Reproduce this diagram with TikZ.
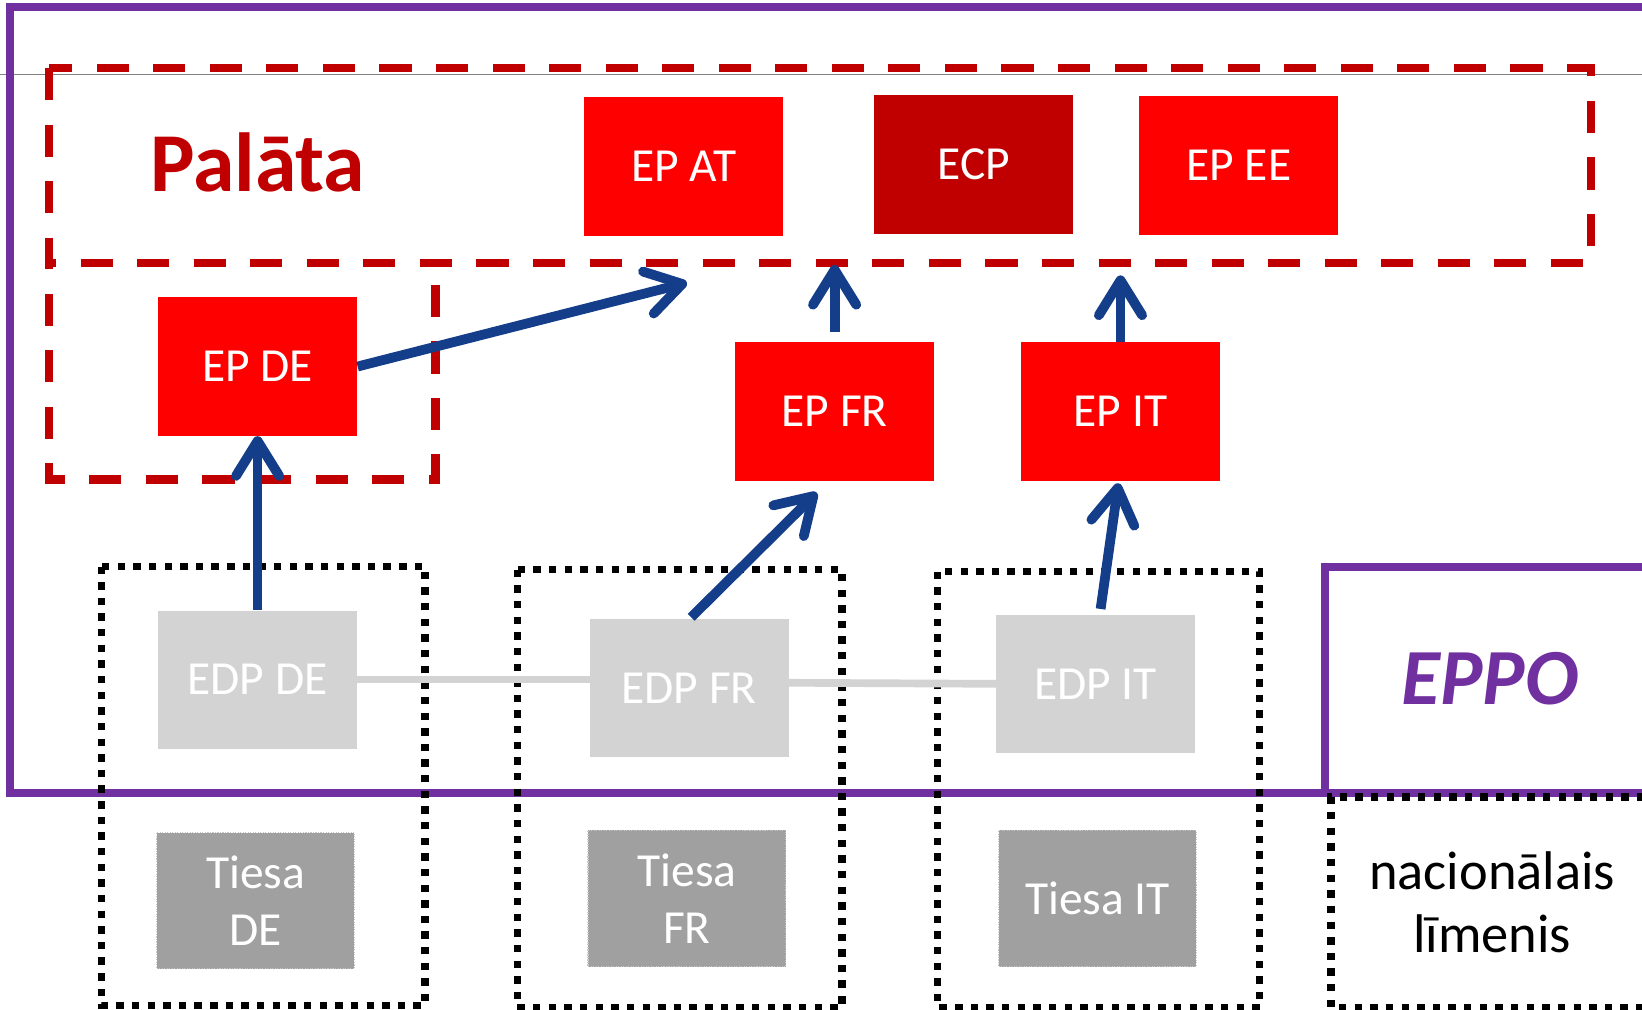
\documentclass[tikz,border=0pt]{standalone}
\usepackage{fontspec}
\setmainfont{Carlito}
\usetikzlibrary{arrows.meta,calc}
\definecolor{palred}{HTML}{C00000}
\definecolor{epred}{HTML}{FF0000}
\definecolor{eppurple}{HTML}{7030A0}
\definecolor{arrblue}{HTML}{153E8A}
\definecolor{edpgray}{HTML}{D3D3D3}
\definecolor{tiesagray}{HTML}{A0A0A0}
\tikzset{every picture/.style={line width=0.75pt}}

\begin{document}
\begin{tikzpicture}[x=0.75pt,y=0.75pt,yscale=-1,xscale=1,
  palbox/.style={draw=palred, line width=6pt, dash pattern=on 23pt off 17.5pt},
  natbox/.style={draw=black, line width=5.3pt, dash pattern=on 5.3pt off 5.9pt},
  epbox/.style={fill=epred, text=white, minimum width=142.5pt, minimum height=99pt, inner sep=0pt, font=\fontsize{34}{40}\selectfont},
  edpbox/.style={epbox, fill=edpgray},
  tiesabox/.style={epbox, fill=tiesagray, draw=gray!45, densely dotted, line width=0.8pt, minimum width=141.75pt, minimum height=97.5pt, align=center, font=\fontsize{34}{41}\selectfont},
  edpline/.style={draw=edpgray, line width=5.5pt},
  arr/.style={draw=arrblue, line width=7pt, -{Straight Barb[length=25pt,width=31pt,round]}}]
\useasboundingbox (0,0) rectangle (1568,964);

%Straight Lines
\draw [gray, line width=0.8pt] (0,71.5) -- (1568,71.5) ;

%Shape: Rectangle
\draw [eppurple, line width=5.7pt] (1600,7) -- (10,7) -- (10,757) -- (1600,757) ;
\draw [eppurple, line width=5.7pt] (1600,541) -- (1265,541) -- (1265,757) ;

%Shape: Rectangle
\draw [palbox] (47,65) rectangle (1519,251) ;
\draw [palbox] (416,272) -- (416,458) -- (47,458) -- (47,251) ;

%Shape: Rectangle
\draw [natbox] (97,541) rectangle (406,960) ;
\draw [natbox] (494,544) rectangle (804,962) ;
\draw [natbox] (895,546) rectangle (1203,962) ;
\draw [natbox] (1600,761) -- (1271,761) -- (1271,962) -- (1600,962) ;

\draw (246,155) node [text=palred, font=\fontsize{60}{62}\selectfont\bfseries] (palata) {Palāta};
\draw (1423,648) node [text=eppurple, font=\fontsize{57}{60}\selectfont\bfseries\itshape] (eppo) {EPPO};
\draw (1425,862) node [align=center, font=\fontsize{39}{45}\selectfont] (natlim) {nacionālais\\līmenis};

\draw (653,159) node [epbox] (epat) {EP AT};
\draw (930,157) node [epbox, fill=palred] (ecp) {ECP};
\draw (1183,158) node [epbox] (epee) {EP EE};
\draw (246,350) node [epbox] (epde) {EP DE};
\draw (797,393) node [epbox] (epfr) {EP FR};
\draw (1070,393) node [epbox] (epit) {EP IT};

%Straight Lines
\draw [edpline] (341,649) -- (563,649) ;
\draw [edpline] (753,652) -- (951,653) ;

\draw (246,649) node [edpbox] (edpde) {EDP DE};
\draw (658,657) node [edpbox] (edpfr) {EDP FR};
\draw (1046,653) node [edpbox] (edpit) {EDP IT};

\draw (244,860) node [tiesabox] (tiesade) {Tiesa\\DE};
\draw (656,858) node [tiesabox] (tiesafr) {Tiesa\\FR};
\draw (1048,858) node [tiesabox] (tiesait) {Tiesa IT};

\coordinate (toat) at (656,270);
\coordinate (tofr) at (797,253);
\coordinate (toit) at (1070,263);

%Straight Lines
\draw [arr] (edpde.north) -- (epde.south) ;
\draw [arr] (epde.east) -- (toat) ;
\draw [arr] ($(edpfr.north)+(2,-1)$) -- ($(epfr.south)+(-17,11)$) ;
\draw [arr] ($(edpit.north)+(5,-5)$) -- ($(epit.south)+(-2,2)$) ;
\draw [arr] ($(epfr.north)+(0,-9)$) -- (tofr) ;
\draw [arr] (epit.north) -- (toit) ;

\end{tikzpicture}
\end{document}
